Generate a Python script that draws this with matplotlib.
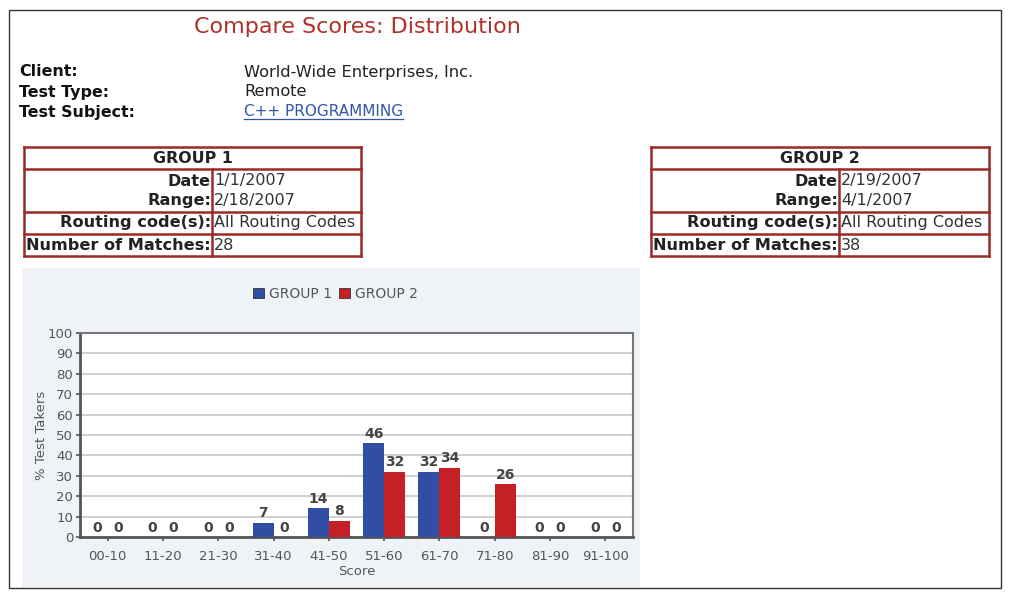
import matplotlib
matplotlib.use("Agg")
import matplotlib.pyplot as plt
from matplotlib.patches import Rectangle
from matplotlib.lines import Line2D
import numpy as np

# ---- data ----
categories = ["00-10", "11-20", "21-30", "31-40", "41-50",
              "51-60", "61-70", "71-80", "81-90", "91-100"]
group1 = [0, 0, 0, 7, 14, 46, 32, 0, 0, 0]
group2 = [0, 0, 0, 0, 8, 32, 34, 26, 0, 0]
series_names = ["GROUP 1", "GROUP 2"]
y_ticks = [0, 10, 20, 30, 40, 50, 60, 70, 80, 90, 100]

title = "Compare Scores: Distribution"
info_labels = ["Client:", "Test Type:", "Test Subject:"]
info_values = ["World-Wide Enterprises, Inc.", "Remote", "C++ PROGRAMMING"]
g1_info = ["1/1/2007", "2/18/2007", "All Routing Codes", "28"]
g2_info = ["2/19/2007", "4/1/2007", "All Routing Codes", "38"]
row_labels = ["Date", "Range:", "Routing code(s):", "Number of Matches:"]

W, H = 1012, 602
fig = plt.figure(figsize=(W / 100, H / 100), dpi=100)
fig.patch.set_facecolor("white")

def fx(x):
    return x / W

def fy(y):
    return 1 - y / H

def ftext(x, y, s, **kw):
    fig.text(fx(x), fy(y), s, **kw)

def fline(x0, y0, x1, y1, **kw):
    fig.add_artist(Line2D([fx(x0), fx(x1)], [fy(y0), fy(y1)],
                          transform=fig.transFigure, **kw))

# outer border
fig.add_artist(Rectangle((fx(9), fy(588)), fx(1001) - fx(9), fy(10) - fy(588),
                         transform=fig.transFigure, fill=False,
                         edgecolor="#333333", lw=1.0))

# chart panel background
fig.add_artist(Rectangle((fx(22), fy(587)), fx(640) - fx(22), fy(268) - fy(587),
                         transform=fig.transFigure, facecolor="#eff3f8",
                         edgecolor="none", zorder=0))

# title
ftext(357, 27, title, ha="center", va="center", fontsize=16,
      color="#b0302c", family="DejaVu Sans")

# info block
for i, (lab, val) in enumerate(zip(info_labels, info_values)):
    y = 72 + 20 * i
    ftext(19, y, lab, ha="left", va="center", fontsize=11.4,
          fontweight="bold", color="#111111")
    col = "#3355aa" if i == 2 else "#222222"
    ftext(244, y, val, ha="left", va="center", fontsize=11.7 if i < 2 else 11,
          color=col)
fline(244, 119.5, 403, 119.5, color="#3355aa", lw=0.9)

# group tables
tcol = "#9b2a25"

def draw_table(x0, x1, xd, name, vals):
    y_lines = [147, 169, 212, 234, 256]
    lw = 1.8
    for y in y_lines:
        fline(x0, y, x1, y, color=tcol, lw=lw)
    fline(x0, 147, x0, 256, color=tcol, lw=lw)
    fline(x1, 147, x1, 256, color=tcol, lw=lw)
    fline(xd, 169, xd, 256, color=tcol, lw=lw)
    ftext((x0 + x1) / 2, 158.5, name, ha="center", va="center",
          fontsize=11.4, fontweight="bold", color="#222222")
    ys = [181, 201, 223, 245]
    for lab, v, y in zip(row_labels, vals, ys):
        ftext(xd - 1, y, lab, ha="right", va="center", fontsize=11.6,
              fontweight="bold", color="#222222")
        ftext(xd + 2, y, v, ha="left", va="center", fontsize=11.5,
              color="#333333")

draw_table(24, 361, 212, series_names[0], g1_info)
draw_table(651, 989, 839, series_names[1], g2_info)

# ---- chart ----
ax = fig.add_axes([fx(80), fy(537), fx(633) - fx(80), fy(333) - fy(537)])
ax.set_facecolor("white")
x = np.arange(len(categories))
bw = 0.38
c1, c2 = "#2f4ea4", "#c42026"
b1 = ax.bar(x - bw / 2, group1, bw, color=c1, zorder=3, label=series_names[0])
b2 = ax.bar(x + bw / 2, group2, bw, color=c2, zorder=3, label=series_names[1])
for bars, vals in ((b1, group1), (b2, group2)):
    for rect, v in zip(bars, vals):
        ax.text(rect.get_x() + rect.get_width() / 2, v + 1.2, f"{v}",
                ha="center", va="bottom", fontsize=10, fontweight="semibold",
                color="#444444")

ax.set_xlim(-0.5, len(categories) - 0.5)
ax.set_ylim(0, 100)
ax.set_yticks(y_ticks)
ax.set_xticks(x)
ax.set_xticklabels(categories)
ax.yaxis.grid(True, color="#cccccc", lw=1.3, zorder=0)
ax.set_axisbelow(True)
ax.tick_params(axis="both", labelsize=9.5, labelcolor="#555555",
               color="#555555", length=3, width=1.2)
ax.tick_params(axis="x", pad=6)
ax.tick_params(axis="y", pad=2)
for side in ["left", "bottom"]:
    ax.spines[side].set_color("#555555")
    ax.spines[side].set_linewidth(2)
for side in ["top", "right"]:
    ax.spines[side].set_color("#777777")
    ax.spines[side].set_linewidth(1.5)
ax.set_ylabel("% Test Takers", fontsize=9.5, color="#555555", labelpad=0)
ax.set_xlabel("Score", fontsize=9.5, color="#555555", labelpad=2)

leg = fig.legend(handles=[b1, b2], loc="center", bbox_to_anchor=(fx(335), fy(294)),
                 ncol=2, frameon=False, fontsize=10, handlelength=0.8,
                 handleheight=0.8, handletextpad=0.35, columnspacing=0.5)
for t in leg.get_texts():
    t.set_color("#555555")
for p in leg.legend_handles:
    p.set_edgecolor("#333333")
    p.set_linewidth(0.6)

fig.savefig("out.png", dpi=100)
